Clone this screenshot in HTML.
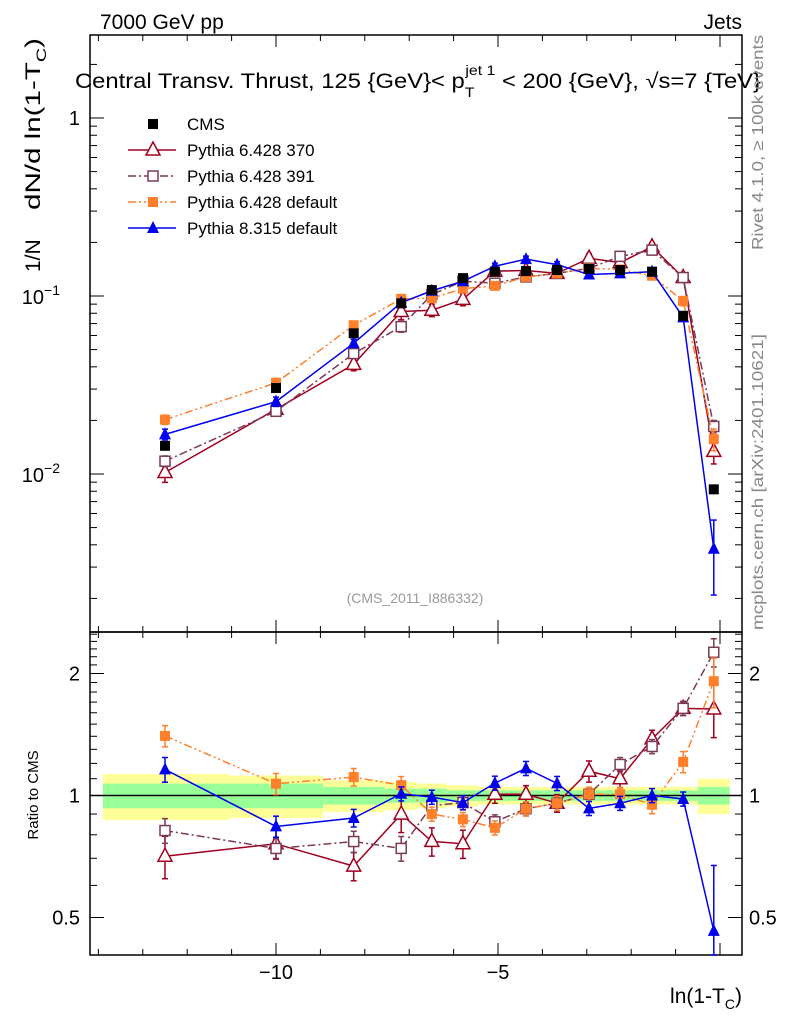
<!DOCTYPE html>
<html><head><meta charset="utf-8">
<style>
body{margin:0;background:#fff;}
svg{display:block;font-family:"Liberation Sans",sans-serif;}
</style></head>
<body>
<svg id="chart" width="786" height="1024" viewBox="0 0 786 1024" xmlns="http://www.w3.org/2000/svg">
  <text x="100" y="29" font-size="21">7000 GeV pp</text>
  <text x="742" y="29" font-size="21" text-anchor="end">Jets</text>
  <text x="75" y="88" font-size="21" textLength="686" lengthAdjust="spacingAndGlyphs">Central Transv. Thrust, 125 {GeV}&lt; p<tspan font-size="14" dy="9">T</tspan><tspan font-size="14" dx="-8" dy="-22">jet 1</tspan><tspan dy="13"> &lt; 200 {GeV}, √s=7 {TeV}</tspan></text>
  <g>
    <text transform="translate(40,272) rotate(-90)" font-size="21">1/N</text>
    <text transform="translate(40,210) rotate(-90)" font-size="21" textLength="172" lengthAdjust="spacingAndGlyphs">dN/d ln(1-T<tspan font-size="14" dy="6">C</tspan><tspan dy="-6">)</tspan></text>
  </g>
  <text transform="translate(763,250) rotate(-90)" font-size="16" fill="#888" textLength="215" lengthAdjust="spacingAndGlyphs">Rivet 4.1.0, ≥ 100k events</text>
  <text transform="translate(763,630) rotate(-90)" font-size="16" fill="#888" textLength="296" lengthAdjust="spacingAndGlyphs">mcplots.cern.ch [arXiv:2401.10621]</text>
  <text x="415" y="603" font-size="14" fill="#999" text-anchor="middle">(CMS_2011_I886332)</text>
  <text transform="translate(38,795) rotate(-90)" font-size="15" text-anchor="middle">Ratio to CMS</text>
  <text x="742" y="1003" font-size="21" text-anchor="end">ln(1-T<tspan font-size="14" dy="6">C</tspan><tspan dy="-6">)</tspan></text>
  <g id="bands"></g>
  <g id="axes"></g>
  <g id="marks"></g>
  <g id="legend"></g>
</svg>
<script>
const xVals = [-12.5,-10.0,-8.25,-7.18,-6.49,-5.79,-5.07,-4.37,-3.67,-2.95,-2.25,-1.53,-0.83,-0.14];
const binEdges = [-13.9,-11.06,-8.94,-7.55,-6.83,-6.15,-5.45,-4.75,-4.05,-3.35,-2.65,-1.95,-1.25,-0.5,0.22];
const cmsVals = [0.0144,0.0304,0.0617,0.0909,0.108,0.126,0.137,0.138,0.140,0.142,0.140,0.137,0.0774,0.0082];
const cmsErr = [0.03,0.03,0.03,0.03,0.02,0.02,0.02,0.02,0.02,0.02,0.02,0.02,0.03,0.04];
const p370Vals = [0.0102,0.0231,0.0413,0.0818,0.0832,0.0958,0.138,0.139,0.134,0.163,0.154,0.189,0.127,0.0134];
const p370Err = [0.12,0.08,0.08,0.1,0.08,0.08,0.05,0.05,0.05,0.06,0.05,0.05,0.04,0.15];
const p391Vals = [0.0118,0.0225,0.0475,0.0673,0.102,0.121,0.118,0.128,0.134,0.143,0.167,0.181,0.127,0.0185];
const p391Err = [0.07,0.06,0.06,0.07,0.04,0.04,0.04,0.04,0.04,0.04,0.04,0.04,0.04,0.08];
const pDefVals = [0.0202,0.0325,0.0685,0.0964,0.0972,0.110,0.114,0.128,0.134,0.143,0.141,0.130,0.0937,0.0157];
const pDefErr = [0.06,0.06,0.05,0.05,0.04,0.04,0.04,0.04,0.04,0.04,0.04,0.05,0.06,0.14];
const p8Vals = [0.0167,0.0255,0.0543,0.0918,0.107,0.121,0.147,0.161,0.150,0.132,0.134,0.137,0.0759,0.0038];
const p8Err = [0.07,0.06,0.05,0.04,0.04,0.04,0.04,0.04,0.04,0.04,0.04,0.04,0.04,0.45];
const bandYellow = [0.13,0.12,0.09,0.08,0.07,0.06,0.05,0.05,0.05,0.05,0.05,0.05,0.05,0.10];
const bandGreen = [0.07,0.07,0.05,0.04,0.04,0.03,0.03,0.03,0.03,0.03,0.03,0.03,0.03,0.05];
const xTickLabels = [-10,-5];
const ratioTickLabels = [0.5,1,2];

const NS="http://www.w3.org/2000/svg";
const L=90,R=742,T=35,MB=632,RB=955;
const xs=v=>720+v*44.4;
const ys=v=>118-178*Math.log10(v);
const yr=v=>795.5-122*Math.log2(v);
function mk(tag,attrs,parent){const e=document.createElementNS(NS,tag);for(const k in attrs)e.setAttribute(k,attrs[k]);parent.appendChild(e);return e;}
const axes=document.getElementById('axes'),marks=document.getElementById('marks'),bands=document.getElementById('bands'),legend=document.getElementById('legend');

for(let i=0;i<bandYellow.length;i++){
  const x0=Math.max(L,xs(binEdges[i])),x1=xs(binEdges[i+1]);
  const y=mk('rect',{x:x0,y:yr(1+bandYellow[i]),width:x1-x0,height:yr(1-bandYellow[i])-yr(1+bandYellow[i]),fill:'#ffff99'},bands);
  
  
  const g=mk('rect',{x:x0,y:yr(1+bandGreen[i]),width:x1-x0,height:yr(1-bandGreen[i])-yr(1+bandGreen[i]),fill:'#99ff99'},bands);
  
  
}
const one=mk('line',{x1:L,x2:R,y1:yr(1),y2:yr(1),stroke:'#000','stroke-width':1.5},bands);



for(const [y0,y1,n] of [[T,MB,'main-frame'],[MB,RB,'ratio-frame']]){
  const f=mk('rect',{x:L,y:y0,width:R-L,height:y1-y0,fill:'none',stroke:'#000','stroke-width':1.5},axes);
  
  
}
for(let v=-14;v<=0;v++){
  const x=xs(v);const major=v%5===0;const len=major?12:6;
  for(const [yb,dir] of [[T,1],[MB,-1],[MB,1],[RB,-1]]){
    const t=mk('line',{x1:x,x2:x,y1:yb,y2:yb+dir*len,stroke:'#000','stroke-width':1},axes);
    
    
  }
}
xTickLabels.forEach(v=>{
  const t=mk('text',{x:xs(v),y:979,'font-size':20,'text-anchor':'middle'},axes);t.textContent=v===-10?'\u221210':'\u22125';
  
  
});
for(let d=-3;d<=0;d++){for(let m=1;m<=9;m++){
  const v=m*Math.pow(10,d);const y=ys(v);if(y<T||y>MB)continue;const len=m===1?14:7;
  for(const [xb,dir] of [[L,1],[R,-1]]){
    const t=mk('line',{x1:xb,x2:xb+dir*len,y1:y,y2:y,stroke:'#000','stroke-width':1},axes);
    
    
  }
}}
const yl1=mk('text',{x:80,y:125,'font-size':20,'text-anchor':'end'},axes);yl1.textContent='1';


[[-1],[-2]].forEach(([e])=>{
  const t=mk('text',{x:60,y:ys(Math.pow(10,e))+8,'font-size':20,'text-anchor':'end'},axes);
  t.innerHTML='10<tspan font-size="14" dy="-9">\u2212'+(-e)+'</tspan>';
  
  
});
for(let v=0.4;v<=2.51;v+=0.1){
  const y=yr(v);if(y<MB||y>RB)continue;
  const r=Math.round(v*10)/10;const major=(r===0.5||r===1||r===2);const len=major?14:7;
  for(const [xb,dir] of [[L,1],[R,-1]]){
    const t=mk('line',{x1:xb,x2:xb+dir*len,y1:y,y2:y,stroke:'#000','stroke-width':1},axes);
    
    
  }
}
ratioTickLabels.forEach(v=>{
  for(const [x,a] of [[80,'end'],[749,'start']]){
    const t=mk('text',{x:x,y:yr(v)+7,'font-size':20,'text-anchor':a},axes);t.textContent=String(v);
    
    
  }
});

const series=[
 {name:'pythia-6428-370',vals:p370Vals,err:p370Err,color:'#a0001e',dash:'',marker:'tri-open'},
 {name:'pythia-6428-391',vals:p391Vals,err:p391Err,color:'#7a3a58',dash:'8,3,2,3',marker:'sq-open'},
 {name:'pythia-6428-default',vals:pDefVals,err:pDefErr,color:'#ff7f2a',dash:'8,3,2,3,2,3',marker:'sq'},
 {name:'pythia-8315-default',vals:p8Vals,err:p8Err,color:'#0000ee',dash:'',marker:'tri'}
];
function marker(g,type,x,y,color,name){
  let e;
  if(type==='sq'||type==='cms')e=mk('rect',{x:x-5,y:y-5,width:10,height:10,fill:color},g);
  else if(type==='sq-open')e=mk('rect',{x:x-5,y:y-5,width:10,height:10,fill:'#fff',stroke:color,'stroke-width':1.5},g);
  else if(type==='tri')e=mk('polygon',{points:`${x},${y-7} ${x-6},${y+5} ${x+6},${y+5}`,fill:color},g);
  else e=mk('polygon',{points:`${x},${y-8} ${x-7},${y+5} ${x+7},${y+5}`,fill:'#fff',stroke:color,'stroke-width':1.5},g);
  
  
}
function errbar(g,x,y0,y1,color){
  const l=mk('line',{x1:x,x2:x,y1:y0,y2:y1,stroke:color,'stroke-width':1.5},g);
  
  
  for(const y of [y0,y1]){const c=mk('line',{x1:x-3,x2:x+3,y1:y,y2:y,stroke:color,'stroke-width':1.5},g);
    
    }
}
series.forEach(s=>{
  const g=mk('g',{},marks);
  
  
  const pm=xVals.map((x,i)=>xs(x)+','+ys(s.vals[i])).join(' ');
  const l1=mk('polyline',{points:pm,fill:'none',stroke:s.color,'stroke-width':1.5,'stroke-dasharray':s.dash},g);
  
  
  const rat=s.vals.map((v,i)=>v/cmsVals[i]);
  const pr=xVals.map((x,i)=>xs(x)+','+yr(rat[i])).join(' ');
  const l2=mk('polyline',{points:pr,fill:'none',stroke:s.color,'stroke-width':1.5,'stroke-dasharray':s.dash},g);
  
  
  xVals.forEach((x,i)=>{
    const v=s.vals[i],e=s.err[i];
    errbar(g,xs(x),ys(v*(1+e)),ys(v*(1-e)),s.color);
    marker(g,s.marker,xs(x),ys(v),s.color,s.name+'-point');
    errbar(g,xs(x),Math.max(MB,yr(rat[i]*(1+e))),Math.min(RB,yr(rat[i]*(1-e))),s.color);
    marker(g,s.marker,xs(x),yr(rat[i]),s.color,s.name+'-ratio-point');
  });
});
const gc=mk('g',{},marks);


xVals.forEach((x,i)=>{
  const v=cmsVals[i];
  errbar(gc,xs(x),ys(v*(1+cmsErr[i])),ys(v*(1-cmsErr[i])),'#000');
  marker(gc,'cms',xs(x),ys(v),'#000','cms-point');
});
const leg=[['CMS','cms','#000',''],['Pythia 6.428 370','tri-open','#a0001e',''],['Pythia 6.428 391','sq-open','#7a3a58','8,3,2,3'],['Pythia 6.428 default','sq','#ff7f2a','8,3,2,3,2,3'],['Pythia 8.315 default','tri','#0000ee','']];
leg.forEach((d,i)=>{
  const y=124+i*26;
  const g=mk('g',{},legend);
  
  
  if(i>0){const l=mk('line',{x1:128,x2:176,y1:y,y2:y,stroke:d[2],'stroke-width':1.5,'stroke-dasharray':d[3]},g);
    
    }
  marker(g,d[1],153,y,d[2],'legend-marker');
  const t=mk('text',{x:187,y:y+6,'font-size':17},g);t.textContent=d[0];
  
  
});
</script>
</body></html>
